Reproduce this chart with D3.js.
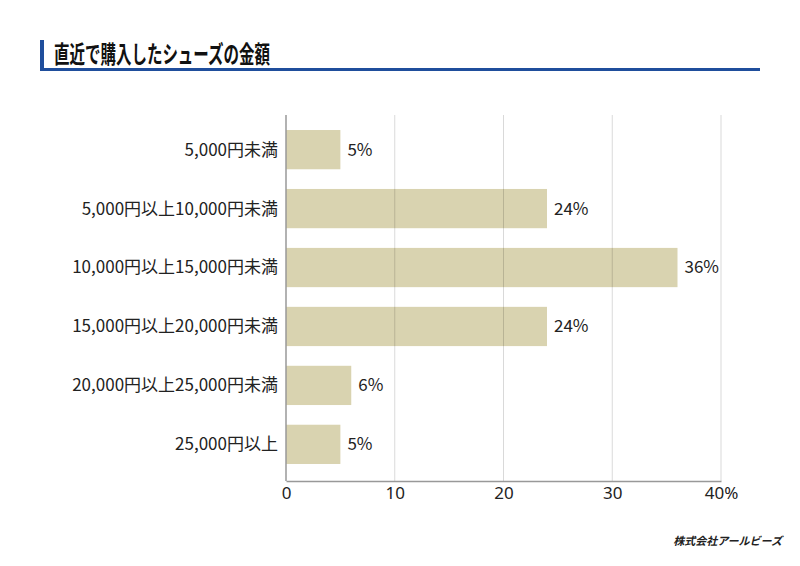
<!DOCTYPE html>
<html>
<head>
<meta charset="utf-8">
<script src="https://cdn.jsdelivr.net/npm/d3@7"></script>
<style>
	body { margin: 0; background: #fff; }
	svg { display: block; font-family: "Noto Sans CJK JP", "Noto Sans", sans-serif; }
</style>
</head>
<body>
<main></main>
<script>
const categories = [
	"5,000円未満",
	"5,000円以上10,000円未満",
	"10,000円以上15,000円未満",
	"15,000円以上20,000円未満",
	"20,000円以上25,000円未満",
	"25,000円以上"
];
const values = [5, 24, 36, 24, 6, 5];
const tickValues = [0, 10, 20, 30, 40];
const tickLabels = ["0", "10", "20", "30", "40%"];

const width = 800;
const height = 566;

const svg = d3.select("main")
	.append("svg")
	.attr("width", width)
	.attr("height", height);

// title block
svg.append("rect")
	.attr("x", 40).attr("y", 40)
	.attr("width", 4).attr("height", 31)
	.attr("fill", "#1f4e9c");
svg.append("rect")
	.attr("x", 40).attr("y", 68)
	.attr("width", 720).attr("height", 3)
	.attr("fill", "#1f4e9c");
svg.append("text")
	.attr("x", 54).attr("y", 63)
	.attr("font-size", 24)
	.attr("font-weight", 700)
	.attr("fill", "#111")
	.attr("textLength", 216)
	.attr("lengthAdjust", "spacingAndGlyphs")
	.text("直近で購入したシューズの金額");

const xScale = d3.scaleLinear()
	.domain([0, 40])
	.range([286, 721]);

const yScale = d3.scaleBand()
	.domain(categories)
	.range([120, 474])
	.paddingInner(0.334)
	.paddingOuter(0.17);

const gridTop = 115;
const axisY = 481;

// bars
svg.selectAll("rect.bar")
	.data(values)
	.enter()
	.append("rect")
	.attr("class", "bar")
	.attr("x", xScale(0))
	.attr("y", (d, i) => yScale(categories[i]))
	.attr("width", d => xScale(d) - xScale(0))
	.attr("height", yScale.bandwidth())
	.attr("fill", "#d9d3b0");

// grid lines (drawn over bars)
svg.selectAll("line.grid")
	.data(tickValues.slice(1))
	.enter()
	.append("line")
	.attr("class", "grid")
	.attr("x1", d => xScale(d)).attr("x2", d => xScale(d))
	.attr("y1", gridTop).attr("y2", axisY)
	.attr("stroke", "rgba(0,0,0,0.15)")
	.attr("stroke-width", 1);

// axes
const xAxisGenerator = d3.axisBottom(xScale)
	.tickValues(tickValues)
	.tickFormat((d, i) => tickLabels[i])
	.tickSize(0)
	.tickPadding(6);

const xAxis = svg.append("g")
	.attr("transform", `translate(0, ${axisY})`)
	.call(xAxisGenerator);
xAxis.select(".domain").attr("stroke", "#999").attr("stroke-width", 1.5);
xAxis.selectAll("text")
	.attr("font-size", 17)
	.attr("fill", "#222")
	.attr("font-family", "\"Noto Sans\", sans-serif");

svg.append("line")
	.attr("x1", xScale(0)).attr("x2", xScale(0))
	.attr("y1", gridTop).attr("y2", axisY)
	.attr("stroke", "#999")
	.attr("stroke-width", 1.5);

// category labels
svg.selectAll("text.cat")
	.data(categories)
	.enter()
	.append("text")
	.attr("class", "cat")
	.attr("x", 278)
	.attr("y", d => yScale(d) + yScale.bandwidth() / 2)
	.attr("dy", "0.35em")
	.attr("text-anchor", "end")
	.attr("font-size", 17)
	.attr("fill", "#222")
	.text(d => d);

// value labels
svg.selectAll("text.val")
	.data(values)
	.enter()
	.append("text")
	.attr("class", "val")
	.attr("x", d => xScale(d) + 7)
	.attr("y", (d, i) => yScale(categories[i]) + yScale.bandwidth() / 2)
	.attr("dy", "0.35em")
	.attr("font-size", 17)
	.attr("fill", "#222")
	.text(d => d + "%");

// footer
svg.append("text")
	.attr("x", 782).attr("y", 545)
	.attr("text-anchor", "end")
	.attr("font-size", 11)
	.attr("font-weight", 700)
	.attr("font-style", "italic")
	.attr("fill", "#222")
	.text("株式会社アールビーズ");
</script>
</body>
</html>
